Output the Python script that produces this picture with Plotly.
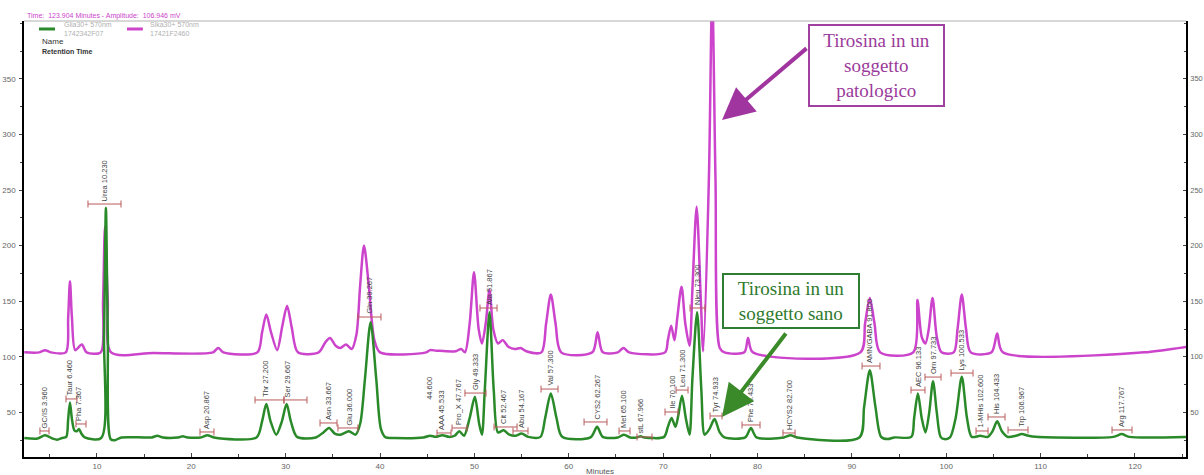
import plotly.graph_objects as go

# ---------------- data ----------------
# green trace (soggetto sano): time (min) / amplitude (mV)
green_time = [2.3, 3.7, 4.5, 5.3, 5.8, 6.3, 6.75, 6.95, 7.14, 7.35,
              7.6, 7.85, 8.1, 8.35, 8.7, 10.45, 10.75, 10.95, 11.15, 11.45,
              11.9, 12.6, 15.8, 16.4, 17.0, 18.6, 19.1, 19.6, 21.0, 21.7,
              22.4, 26.9, 27.5, 27.95, 28.4, 29.0, 29.6, 30.1, 30.55, 31.2,
              33.2, 34.0, 34.6, 35.2, 35.8, 36.7, 37.4, 37.9, 38.4, 39.0,
              39.6, 40.1, 40.6, 41.5, 44.6, 45.3, 45.9, 46.6, 47.3, 47.9,
              48.4, 48.9, 49.5, 50.05, 50.5, 50.8, 51.1, 51.6, 52.05, 52.5,
              53.1, 53.7, 54.4, 55.0, 55.7, 57.0, 57.5, 58.1, 58.7, 59.3,
              62.3, 63.0, 63.6, 65.2, 65.85, 66.5, 67.2, 67.6, 68.0, 70.1,
              70.5, 70.9, 71.3, 71.6, 72.0, 72.4, 72.8, 73.1, 73.6, 74.05,
              74.4, 74.9, 75.45, 76.0, 76.5, 78.7, 79.3, 79.9, 82.8, 83.5,
              84.2, 90.8, 91.3, 91.9, 92.5, 93.1, 93.8, 94.5, 96.3, 96.6,
              97.0, 97.4, 97.8, 98.2, 98.6, 99.0, 99.4, 99.8, 100.4, 101.0,
              101.65, 102.2, 102.7, 103.6, 104.4, 104.9, 105.4, 105.9, 106.5, 107.4,
              108.0, 108.7, 109.5, 117.7, 118.6, 119.4, 125.5]
green_mv = [27, 26.5, 29.5, 26.5, 25.5, 27, 28, 44, 59, 44,
            34, 33, 35, 31, 27.5, 27, 120, 234, 120, 26,
            25, 27.5, 27.5, 29, 27.5, 27.5, 28.5, 27.5, 27.5, 29.5,
            27.5, 27.5, 42, 57.5, 42, 30, 42, 57.5, 42, 28,
            27.5, 32, 36, 31, 30, 33, 30, 40, 80, 131,
            80, 35, 27.5, 27, 27.5, 29, 28, 29.5, 28, 29,
            33, 29, 45, 64, 40, 30, 70, 140, 70, 32,
            34, 30, 29, 31, 28, 28, 45, 67, 45, 28,
            27.5, 37, 28, 27.5, 30, 27.5, 27.5, 28.5, 27.5, 28,
            37, 45, 37, 47, 65, 45, 30, 80, 140, 70,
            30, 35, 44, 32, 27.5, 27.5, 36, 27.5, 27.5, 29.5,
            27.5, 27.5, 55, 88, 55, 28, 26, 27.5, 28, 45,
            67, 45, 32, 50, 78, 50, 28, 26, 27.5, 45,
            82, 45, 28, 29, 28, 33, 42, 33, 28, 29,
            30.5, 29, 28, 28, 30.5, 28, 28]

# magenta trace (soggetto patologico)
magenta_time = [2.3, 3.9, 4.5, 5.1, 6.7, 6.95, 7.14, 7.35, 7.7, 8.4,
                8.9, 10.4, 10.65, 10.85, 11.15, 11.5, 16.0, 22.3, 22.85, 23.4,
                27.0, 27.5, 27.95, 28.45, 29.1, 29.65, 30.15, 30.65, 31.3, 33.5,
                34.2, 34.7, 35.3, 35.8, 36.4, 37.0, 37.5, 37.9, 38.3, 38.8,
                39.4, 40.0, 44.9, 45.3, 46.0, 48.0, 48.6, 49.0, 49.5, 49.96,
                50.45, 50.8, 51.2, 51.6, 52.0, 52.5, 53.0, 53.6, 54.3, 54.9,
                55.5, 57.1, 57.6, 58.1, 58.6, 59.2, 62.5, 63.05, 63.6, 65.2,
                65.8, 66.4, 70.2, 70.5, 70.85, 71.2, 71.5, 71.95, 72.35, 72.8,
                73.1, 73.55, 74.0, 74.25, 74.85, 75.2, 75.55, 76.0, 76.5, 78.6,
                79.0, 79.5, 90.9, 91.4, 91.9, 92.4, 93.0, 96.5, 96.95, 97.4,
                97.8, 98.15, 98.55, 99.0, 99.5, 100.8, 101.2, 101.65, 102.1, 102.6,
                104.8, 105.4, 106.0, 121.0, 123.0, 125.5]
magenta_mv = [104, 104, 106, 104, 104, 135, 168, 135, 106, 111,
              104, 104, 150, 217, 150, 104, 103.5, 104, 108, 104,
              104, 122, 138, 122, 106, 128, 146, 126, 104, 104,
              113, 117, 110, 108, 111, 107, 120, 165, 200, 165,
              115, 104, 104, 106, 105.5, 105, 107, 104, 130, 176,
              125, 112, 130, 160, 125, 112, 115, 109, 107, 108,
              105, 104, 130, 156, 130, 104, 104, 122, 104, 104,
              108, 104, 104, 115, 128, 115, 135, 163, 130, 110,
              160, 235, 150, 105, 260, 430, 260, 108, 104, 104,
              117, 104, 104, 130, 153, 130, 104, 104, 151, 118,
              112, 125, 153, 118, 104, 104, 125, 156, 125, 104,
              104, 121, 104, 104, 106, 109]

# peak labels (green trace)
peak_names = ["GC/IS 3.960", "Taur 6.460", "Pha 7.367", "Urea 10.230", "Asp 20.867",
              "Thr 27.200", "Ser 29.667", "Asn 33.667", "Glu 36.000", "Gln 39.267",
              "44.600", "AAA 45.533", "Pro_X 47.767", "Gly 49.333", "Ala 51.867",
              "Cit 52.467", "Abu 54.167", "Val 57.300", "CYS2 62.267", "Met 65.100",
              "stL 67.966", "Ile 70.100", "Leu 71.300", "Nleu 73.300", "Tyr 74.933",
              "Phe 78.433", "HCYS2 82.700", "AMN/GABA 91.800", "AEC 96.133", "Orn 97.733",
              "Lys 100.533", "1-MHis 102.600", "His 104.433", "Trp 106.967", "Arg 117.767"]
peak_time = [4.49, 7.04, 8.10, 10.85, 21.66, 27.91, 30.14, 34.59, 36.71, 38.83,
             45.29, 46.57, 48.37, 50.06, 51.55, 53.14, 55.04, 58.12, 62.99, 65.85,
             67.55, 70.94, 72.00, 73.59, 75.50, 79.31, 83.45, 91.82, 97.01, 98.60,
             101.67, 103.58, 105.38, 108.03, 118.63]
bracket_mv = [33.3, 62.1, 39.6, 237.4, 32.4, 61.2, 61.2, 40.5, 36.0, 135.8,
              59.0, 31.5, 36.0, 67.4, 143.9, 36.9, 33.3, 71.0, 41.4, 33.3,
              27.9, 50.4, 70.1, 143.9, 46.8, 38.7, 31.5, 91.7, 70.1, 81.8,
              85.4, 33.3, 45.9, 34.2, 34.2]
bracket_start = [3.96, 6.72, 7.78, 9.05, 20.92, 26.75, 29.82, 33.64, 35.54, 37.66,
                 45.29, 46.04, 47.63, 49.00, 50.59, 52.08, 54.09, 57.06, 61.62, 65.33,
                 67.23, 70.20, 71.37, 72.85, 74.97, 78.36, 82.70, 91.08, 96.27, 97.75,
                 100.51, 103.16, 104.43, 106.55, 117.57]
bracket_end = [4.92, 7.88, 8.84, 12.55, 22.40, 29.82, 32.26, 35.44, 37.66, 40.10,
               45.29, 47.52, 49.22, 51.23, 52.40, 54.52, 55.68, 58.86, 64.05, 66.49,
               68.82, 71.58, 72.64, 74.44, 76.24, 80.27, 83.98, 92.98, 97.75, 99.45,
               102.84, 104.43, 106.23, 108.67, 119.69]

x_ticks = [10, 20, 30, 40, 50, 60, 70, 80, 90, 100, 110, 120]
y_ticks = [50, 100, 150, 200, 250, 300, 350]
x_range = [2.27, 125.41]
y_range = [9.9, 402.0]

assert len(green_time) == len(green_mv)
assert len(magenta_time) == len(magenta_mv)

GREEN = "#2a8a2a"
MAGENTA = "#cc44cc"
BRACKET = "#b85a5a"

fig = go.Figure()

fig.add_trace(go.Scatter(x=magenta_time, y=magenta_mv, mode="lines",
                         line=dict(color=MAGENTA, width=2.5, shape="spline", smoothing=0.8),
                         name="Sika30+ 570nm", showlegend=False, hoverinfo="skip"))

fig.add_trace(go.Scatter(x=green_time, y=green_mv, mode="lines", yaxis="y2",
                         line=dict(color=GREEN, width=2.5, shape="spline", smoothing=0.8),
                         name="Glia30+ 570nm", showlegend=False, hoverinfo="skip"))

bx, by = [], []
for s, e, v in zip(bracket_start, bracket_end, bracket_mv):
    if e > s:
        bx += [s, e, None]
        by += [v, v, None]
fig.add_trace(go.Scatter(x=bx, y=by, mode="lines+markers", yaxis="y2",
                         line=dict(color=BRACKET, width=1),
                         marker=dict(symbol="line-ns", size=5, line=dict(width=1, color=BRACKET)),
                         showlegend=False, hoverinfo="skip"))

annotations = []
for name, t, v in zip(peak_names, peak_time, bracket_mv):
    annotations.append(dict(x=t, y=v, xref="x", yref="y", text=name, showarrow=False,
                            textangle=-90, xanchor="center", yanchor="bottom", yshift=1,
                            font=dict(family="Liberation Sans", size=7.5, color="#444444")))

# callout boxes + arrows
annotations += [
    dict(x=92.61, y=362.0, xref="x", yref="y", showarrow=False,
         text="Tirosina in un<br>soggetto<br>patologico",
         font=dict(family="Liberation Serif", size=19, color="#9a3a9a"),
         bgcolor="white", bordercolor="#a040a0", borderwidth=2, borderpad=1,
         width=131, height=77, xanchor="center", yanchor="middle"),
    dict(x=76.24, y=312.9, xref="x", yref="y", text="", showarrow=True,
         ax=86, ay=-73, arrowcolor="#a0359f", arrowwidth=4, arrowhead=2, arrowsize=1.6,
         standoff=0),
    dict(x=83.55, y=150.2, xref="x", yref="y", showarrow=False,
         text="Tirosina in un<br>soggetto sano",
         font=dict(family="Liberation Serif", size=19, color="#2e7a2e"),
         bgcolor="white", bordercolor="#2e7d32", borderwidth=2, borderpad=1,
         width=132, height=50, xanchor="center", yanchor="middle"),
    dict(x=76.24, y=45.9, xref="x", yref="y", text="", showarrow=True,
         ax=65, ay=-85, arrowcolor="#3a8a2a", arrowwidth=4, arrowhead=2, arrowsize=1.6,
         standoff=0),
]

# header / legend texts
annotations += [
    dict(x=0.001, y=1.0115, xref="paper", yref="paper", xanchor="left", yanchor="middle",
         text="Time:  123.904 Minutes - Amplitude:  106.946 mV", showarrow=False,
         font=dict(family="Liberation Sans", size=7, color=MAGENTA)),
    dict(x=0.0327, y=0.9817, xref="paper", yref="paper", xanchor="left", yanchor="middle",
         text="Glia30+ 570nm<br>1742342F07", showarrow=False, align="left",
         font=dict(family="Liberation Sans", size=7, color="#b0b0b0")),
    dict(x=0.1066, y=0.9817, xref="paper", yref="paper", xanchor="left", yanchor="middle",
         text="Sika30+ 570nm<br>17421F2460", showarrow=False, align="left",
         font=dict(family="Liberation Sans", size=7, color="#b0b0b0")),
    dict(x=0.0138, y=0.954, xref="paper", yref="paper", xanchor="left", yanchor="middle",
         text="Name", showarrow=False,
         font=dict(family="Liberation Sans", size=8, color="#333333")),
    dict(x=0.0138, y=0.931, xref="paper", yref="paper", xanchor="left", yanchor="middle",
         text="<b>Retention Time</b>", showarrow=False,
         font=dict(family="Liberation Sans", size=7, color="#333333")),
    dict(x=0.4953, y=-0.0344, xref="paper", yref="paper", xanchor="center", yanchor="middle",
         text="Minutes", showarrow=False,
         font=dict(family="Liberation Sans", size=8, color="#555555")),
]

shapes = [
    dict(type="line", xref="paper", yref="paper", x0=0, x1=1, y0=1, y1=1,
         line=dict(color="#b0b0b0", width=1)),
    dict(type="line", xref="paper", yref="paper", x0=0.0129, x1=0.0267, y0=0.9817, y1=0.9817,
         line=dict(color=GREEN, width=3)),
    dict(type="line", xref="paper", yref="paper", x0=0.0886, x1=0.1023, y0=0.9817, y1=0.9817,
         line=dict(color=MAGENTA, width=3)),
]

axis_font = dict(family="Liberation Sans", size=8, color="#666666")
fig.update_layout(
    width=1204, height=475,
    margin=dict(l=24, r=18, t=21, b=18, autoexpand=False),
    paper_bgcolor="white", plot_bgcolor="white",
    showlegend=False,
    xaxis=dict(range=x_range, tickvals=x_ticks, ticks="inside", ticklen=4, tickcolor="#444",
               showline=True, linecolor="black", linewidth=2, showgrid=False, zeroline=False,
               tickfont=axis_font, automargin=False,
               minor=dict(dtick=5, ticks="inside", ticklen=3, tickcolor="#444")),
    yaxis=dict(range=y_range, tickvals=y_ticks, ticks="outside", ticklen=3, tickcolor="#444",
               showline=True, linecolor="black", linewidth=1.5, showgrid=False, zeroline=False,
               tickfont=axis_font, ticklabelstandoff=2, automargin=False,
               minor=dict(dtick=25, ticks="outside", ticklen=2, tickcolor="#444")),
    yaxis2=dict(range=y_range, tickvals=y_ticks, overlaying="y", side="right",
                ticks="inside", ticklen=3, tickcolor="#444", automargin=False,
                showline=True, linecolor="black", linewidth=1.5, showgrid=False, zeroline=False,
                tickfont=dict(family="Liberation Sans", size=7.5, color="#666666"),
                ticklabelstandoff=1,
                minor=dict(dtick=25, ticks="inside", ticklen=2, tickcolor="#444")),
    annotations=annotations,
    shapes=shapes,
)

fig.write_html("out.html", config={"displayModeBar": False},
               post_script="document.body.style.margin='0';")
